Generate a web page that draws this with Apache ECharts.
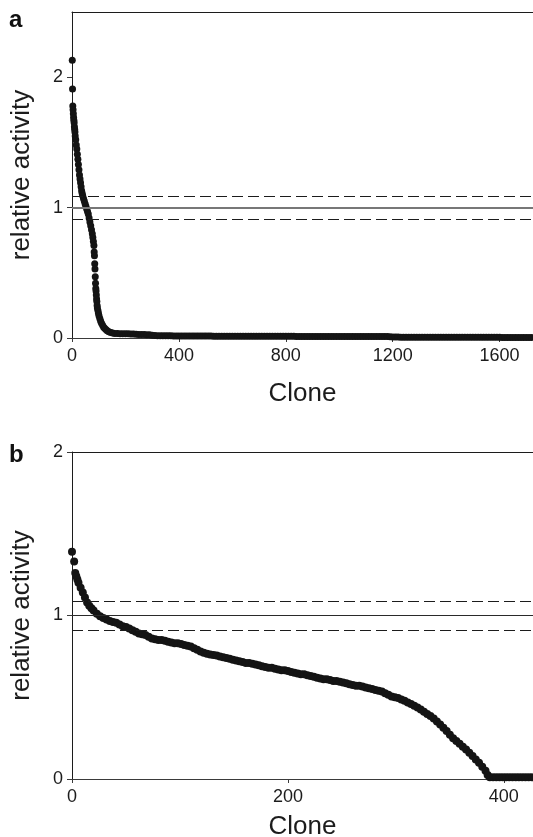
<!DOCTYPE html>
<html>
<head>
<meta charset="utf-8">
<title>Relative activity by clone</title>
<script src="https://cdn.jsdelivr.net/npm/echarts@6/dist/echarts.min.js"></script>
<style>
  html, body { margin: 0; padding: 0; background: #ffffff; }
  #chart { width: 533px; height: 837px; }
</style>
</head>
<body>
<div id="chart"></div>
<script>
// Panel a: clones ranked by relative activity (full library)
const cloneA = [
  1, 2, 3, 4, 5, 6, 7, 8, 9, 10,
  11, 12, 14, 16, 18, 20, 22, 24, 26, 28,
  30, 32, 34, 36, 38, 40, 43, 46, 49, 52,
  55, 58, 61, 64, 67, 70, 73, 76, 78, 80,
  82, 83, 84, 85, 86, 87, 88, 89, 90, 91,
  92, 93, 94, 95, 97, 99, 101, 104, 107, 110,
  114, 118, 122, 127, 132, 138, 145, 152, 160,
  170, 180, 190, 200, 210, 220, 230, 240, 250, 260,
  270, 280, 290, 300, 310, 320, 330, 340, 350, 360,
  370, 380, 390, 400, 410, 420, 430, 440, 450, 460,
  470, 480, 490, 500, 510, 520, 530, 540, 550, 560,
  570, 580, 590, 600, 610, 620, 630, 640, 650, 660,
  670, 680, 690, 700, 710, 720, 730, 740, 750, 760,
  770, 780, 790, 800, 810, 820, 830, 840, 850, 860,
  870, 880, 890, 900, 910, 920, 930, 940, 950, 960,
  970, 980, 990, 1000, 1010, 1020, 1030, 1040, 1050, 1060,
  1070, 1080, 1090, 1100, 1110, 1120, 1130, 1140, 1150, 1160,
  1170, 1180, 1190, 1200, 1210, 1220, 1230, 1240, 1250, 1260,
  1270, 1280, 1290, 1300, 1310, 1320, 1330, 1340, 1350, 1360,
  1370, 1380, 1390, 1400, 1410, 1420, 1430, 1440, 1450, 1460,
  1470, 1480, 1490, 1500, 1510, 1520, 1530, 1540, 1550, 1560,
  1570, 1580, 1590, 1600, 1610, 1620, 1630, 1640, 1650, 1660,
  1670, 1680, 1690, 1700, 1710, 1720
];
const activityA = [
  2.13, 1.91, 1.78, 1.75, 1.72, 1.69, 1.67, 1.65, 1.62, 1.60,
  1.58, 1.55, 1.52, 1.48, 1.45, 1.41, 1.37, 1.33, 1.29, 1.25,
  1.22, 1.19, 1.16, 1.13, 1.11, 1.09, 1.07, 1.05, 1.03, 1.01,
  0.99, 0.97, 0.95, 0.92, 0.89, 0.86, 0.83, 0.80, 0.77, 0.74,
  0.71, 0.66, 0.63, 0.57, 0.53, 0.47, 0.42, 0.38, 0.36, 0.33,
  0.30, 0.28, 0.25, 0.23, 0.21, 0.19, 0.17, 0.15, 0.13, 0.115,
  0.10, 0.085, 0.075, 0.065, 0.055, 0.048, 0.042, 0.038, 0.035,
  0.034, 0.033, 0.033, 0.032, 0.032, 0.031, 0.030, 0.028, 0.027, 0.026,
  0.026, 0.025, 0.024, 0.022, 0.019, 0.018, 0.018, 0.017, 0.017, 0.017,
  0.017, 0.016, 0.016, 0.016, 0.016, 0.016, 0.016, 0.015, 0.015, 0.015,
  0.015, 0.015, 0.015, 0.015, 0.015, 0.015, 0.014, 0.014, 0.014, 0.014,
  0.014, 0.014, 0.014, 0.014, 0.014, 0.014, 0.014, 0.014, 0.013, 0.013,
  0.013, 0.013, 0.013, 0.013, 0.013, 0.013, 0.013, 0.013, 0.013, 0.013,
  0.013, 0.013, 0.013, 0.013, 0.013, 0.013, 0.013, 0.012, 0.012, 0.012,
  0.012, 0.012, 0.012, 0.012, 0.012, 0.012, 0.012, 0.012, 0.012, 0.012,
  0.012, 0.012, 0.012, 0.012, 0.012, 0.012, 0.012, 0.012, 0.011, 0.011,
  0.011, 0.011, 0.011, 0.011, 0.011, 0.011, 0.011, 0.011, 0.011, 0.011,
  0.011, 0.011, 0.010, 0.007, 0.007, 0.007, 0.006, 0.006, 0.006, 0.006,
  0.006, 0.006, 0.006, 0.006, 0.006, 0.006, 0.006, 0.006, 0.006, 0.006,
  0.006, 0.006, 0.006, 0.006, 0.005, 0.005, 0.005, 0.005, 0.005, 0.005,
  0.005, 0.005, 0.005, 0.005, 0.005, 0.005, 0.005, 0.005, 0.005, 0.005,
  0.005, 0.005, 0.005, 0.005, 0.004, 0.004, 0.004, 0.004, 0.004, 0.004,
  0.004, 0.004, 0.004, 0.004, 0.004, 0.004
];

// Panel b: clones ranked by relative activity (second screen)
const cloneB = [
  0, 2, 3, 4, 5, 6, 8, 10, 12, 14,
  16, 18, 20, 23, 26, 29, 32, 35, 38, 41,
  44, 47, 50, 53, 56, 59, 62, 65, 68, 71,
  74, 77, 80, 83, 86, 89, 92, 95, 98, 101,
  104, 107, 110, 113, 116, 119, 122, 125, 128, 131,
  134, 137, 140, 143, 146, 149, 152, 155, 158, 161,
  164, 167, 170, 173, 176, 179, 182, 185, 188, 191,
  194, 197, 200, 203, 206, 209, 212, 215, 218, 221,
  224, 227, 230, 233, 236, 239, 242, 245, 248, 251,
  254, 257, 260, 263, 266, 269, 272, 275, 278, 281,
  284, 287, 290, 293, 296, 299, 302, 305, 308, 311,
  314, 317, 320, 323, 326, 329, 332, 335, 338, 341,
  344, 347, 350, 353, 356, 359, 362, 365, 368, 371,
  374, 377, 380, 383, 385, 387, 390, 393, 396, 399,
  402, 405, 408, 411, 414, 417, 420, 423, 426
];
const activityB = [
  1.39, 1.33, 1.26, 1.24, 1.22, 1.20, 1.17, 1.14, 1.11, 1.08,
  1.06, 1.045, 1.03, 1.01, 0.995, 0.985, 0.975, 0.967, 0.96, 0.955,
  0.945, 0.935, 0.93, 0.92, 0.91, 0.90, 0.89, 0.885, 0.88, 0.87,
  0.86, 0.855, 0.85, 0.85, 0.845, 0.84, 0.835, 0.83, 0.83, 0.825,
  0.82, 0.815, 0.81, 0.80, 0.79, 0.78, 0.772, 0.766, 0.762, 0.758,
  0.755, 0.75, 0.745, 0.74, 0.735, 0.73, 0.725, 0.72, 0.715, 0.71,
  0.71, 0.705, 0.70, 0.695, 0.69, 0.685, 0.68, 0.68, 0.675, 0.67,
  0.665, 0.665, 0.66, 0.655, 0.65, 0.645, 0.64, 0.64, 0.635, 0.63,
  0.625, 0.62, 0.615, 0.61, 0.61, 0.605, 0.60, 0.60, 0.595, 0.59,
  0.585, 0.58, 0.575, 0.57, 0.57, 0.565, 0.56, 0.555, 0.55, 0.545,
  0.54, 0.535, 0.525, 0.515, 0.505, 0.50, 0.495, 0.487, 0.478, 0.468,
  0.458, 0.448, 0.437, 0.425, 0.412, 0.398, 0.385, 0.37, 0.352, 0.333,
  0.313, 0.293, 0.27, 0.25, 0.232, 0.215, 0.198, 0.18, 0.16, 0.14,
  0.12, 0.10, 0.075, 0.05, 0.025, 0.01, 0.01, 0.01, 0.01, 0.01,
  0.01, 0.01, 0.01, 0.01, 0.01, 0.01, 0.01, 0.01, 0.01
];

// Axis ranges and tick values
const xMaxA = 1725, xTicksA = [0, 400, 800, 1200, 1600];
const xMaxB = 427, xTicksB = [0, 200, 400];
const yMaxA = 2.5, yMaxB = 2, yTicks = [0, 1, 2];

// Reference band: nominal activity 1 with its tolerance limits
const bandUpper = 1.09, bandMid = 1, bandLower = 0.91;

const FONT = '"Liberation Sans", Arial, Helvetica, sans-serif';
const INK = '#1c1c1c';

const pairs = (xs, ys) => xs.map((x, i) => [x, ys[i]]);

function bottomAxis(grid, max, ticks, gap) {
  return {
    gridIndex: grid, type: 'value', position: 'bottom', min: 0, max: max,
    name: 'Clone', nameLocation: 'middle', nameGap: gap,
    nameTextStyle: { fontFamily: FONT, fontSize: 26, color: INK },
    axisLine: { onZero: false, lineStyle: { color: '#3a3a3a', width: 1 } },
    axisTick: { customValues: ticks, length: 4, lineStyle: { color: '#3a3a3a' } },
    axisLabel: {
      customValues: ticks, margin: 9, fontFamily: FONT, fontSize: 18, color: INK,
      formatter: (v) => String(v)
    },
    splitLine: { show: false }
  };
}
function topAxis(grid, max) {
  return {
    gridIndex: grid, type: 'value', position: 'top', min: 0, max: max,
    axisLine: { onZero: false, lineStyle: { color: '#1c1c1c', width: 1 } },
    axisTick: { show: false }, axisLabel: { show: false }, splitLine: { show: false }
  };
}
function leftAxis(grid, max) {
  return {
    gridIndex: grid, type: 'value', min: 0, max: max,
    name: 'relative activity', nameLocation: 'middle', nameGap: 37,
    nameTextStyle: { fontFamily: FONT, fontSize: 26, color: INK },
    axisLine: { show: true, onZero: false, lineStyle: { color: '#1c1c1c', width: 1 } },
    axisTick: { show: true, customValues: yTicks, length: 5, lineStyle: { color: '#3a3a3a' } },
    axisLabel: { customValues: yTicks, margin: 9, fontFamily: FONT, fontSize: 18, color: INK },
    splitLine: { show: false }
  };
}
function bandLines(midColor, midWidth) {
  const dash = { type: [11, 5], color: '#1c1c1c', width: 1 };
  return {
    silent: true, symbol: ['none', 'none'], animation: false,
    label: { show: false },
    data: [
      { yAxis: bandUpper, lineStyle: dash },
      { yAxis: bandMid, lineStyle: { type: 'solid', color: midColor, width: midWidth } },
      { yAxis: bandLower, lineStyle: dash }
    ]
  };
}

const chart = echarts.init(document.getElementById('chart'), null, { renderer: 'canvas' });
chart.setOption({
  animation: false,
  backgroundColor: '#ffffff',
  grid: [
    { left: 72, top: 12, right: 0, height: 326, outerBoundsMode: 'none' },
    { left: 72, top: 452, right: 0, height: 327, outerBoundsMode: 'none' }
  ],
  xAxis: [
    bottomAxis(0, xMaxA, xTicksA, 43), topAxis(0, xMaxA),
    bottomAxis(1, xMaxB, xTicksB, 35), topAxis(1, xMaxB)
  ],
  yAxis: [leftAxis(0, yMaxA), leftAxis(1, yMaxB)],
  series: [
    {
      type: 'scatter', xAxisIndex: 0, yAxisIndex: 0,
      data: pairs(cloneA, activityA),
      symbol: 'circle', symbolSize: 7,
      itemStyle: { color: '#141414', opacity: 1 },
      markLine: bandLines('#777777', 2)
    },
    {
      type: 'scatter', xAxisIndex: 2, yAxisIndex: 1,
      data: pairs(cloneB, activityB),
      symbol: 'circle', symbolSize: 8,
      itemStyle: { color: '#141414', opacity: 1 },
      markLine: bandLines('#2a2a2a', 1)
    }
  ],
  graphic: [
    { type: 'text', left: 9, top: 8, style: { text: 'a', font: 'bold 24px ' + FONT, fill: '#111' } },
    { type: 'text', left: 9, top: 443, style: { text: 'b', font: 'bold 24px ' + FONT, fill: '#111' } }
  ]
});
</script>
</body>
</html>
